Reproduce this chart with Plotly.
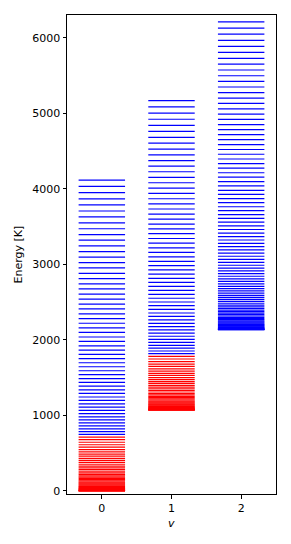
import plotly.graph_objects as go

# Vibrational states
v_states = [0, 1, 2]

# Level energies [K] per vibrational state (J = 0..97)
energy_v0 = [0, 1, 3, 5, 9, 13, 18, 24, 31, 39, 48, 58, 68, 79, 91, 105, 118, 133, 149, 166,
             183, 201, 220, 240, 261, 283, 306, 329, 354, 379, 405, 432, 460, 488, 518, 548, 580, 612, 645, 679,
             714, 749, 786, 823, 861, 901, 941, 981, 1023, 1066, 1109, 1153, 1198, 1244, 1291, 1339, 1388, 1437, 1487, 1539,
             1591, 1644, 1697, 1752, 1807, 1864, 1921, 1979, 2038, 2098, 2158, 2220, 2282,
             2345, 2409, 2474, 2540, 2606, 2674, 2742, 2811, 2881, 2952,
             3023, 3096, 3169, 3243, 3319, 3394, 3471, 3549, 3627, 3706,
             3787, 3867, 3949, 4032, 4115]
energy_v1 = [1071, 1072, 1074, 1076, 1080, 1084, 1089, 1095, 1102, 1110, 1119, 1128, 1139, 1150, 1162, 1175, 1189, 1204, 1219, 1236,
             1253, 1271, 1290, 1310, 1331, 1353, 1375, 1399, 1423, 1448, 1474, 1501, 1529, 1557, 1587, 1617, 1648, 1680, 1713, 1747,
             1781, 1817, 1853, 1890, 1928, 1967, 2007, 2048, 2089, 2132, 2175, 2219, 2264, 2310, 2356, 2404, 2452, 2501, 2551, 2602,
             2654, 2707, 2760, 2815, 2870, 2926, 2983, 3040, 3099, 3158, 3219, 3280, 3342, 3405, 3468, 3533, 3598, 3665, 3732, 3800,
             3868, 3938, 4009, 4080, 4152, 4225, 4299, 4373, 4449, 4525, 4603, 4681, 4759, 4839, 4920, 5001, 5083, 5166]
energy_v2 = [2135, 2136, 2137, 2140, 2144, 2148, 2153, 2159, 2166, 2174, 2182, 2192, 2202, 2213, 2225, 2238, 2252, 2267, 2282, 2299,
             2316, 2334, 2353, 2373, 2394, 2415, 2438, 2461, 2485, 2510, 2536, 2563, 2590, 2619, 2648, 2678, 2709, 2741, 2774, 2807,
             2842, 2877, 2913, 2950, 2988, 3027, 3066, 3107, 3148, 3190, 3233, 3277, 3322, 3367, 3414, 3461, 3509, 3558, 3608, 3659,
             3710, 3762, 3816, 3870, 3925, 3980, 4037, 4094, 4153, 4212, 4272, 4333, 4394, 4457, 4520, 4585, 4650, 4716, 4782, 4850,
             4918, 4988, 5058, 5129, 5201, 5273, 5347, 5421, 5496, 5572, 5649, 5727, 5805, 5884, 5965, 6046, 6127, 6210]

# Number of lowest levels drawn in red for each vibrational state
n_red = [41, 41, 0]

y_ticks = [0, 1000, 2000, 3000, 4000, 5000, 6000]
x_tick_labels = ["0", "1", "2"]

energies = [energy_v0, energy_v1, energy_v2]
half_width = 1 / 3

fig = go.Figure()
for v, levels, nr in zip(v_states, energies, n_red):
    for color, subset in (("red", levels[:nr]), ("blue", levels[nr:])):
        if not subset:
            continue
        xs, ys = [], []
        for e in subset:
            xs += [v - half_width, v + half_width, None]
            ys += [e, e, None]
        fig.add_trace(go.Scatter(x=xs, y=ys, mode="lines",
                                 line=dict(color=color, width=1.2),
                                 hoverinfo="skip", showlegend=False))

axis_common = dict(showline=True, linecolor="black", linewidth=1, mirror=True,
                   ticks="outside", ticklen=3.5, tickwidth=1, tickcolor="black",
                   showgrid=False, zeroline=False, automargin=False,
                   tickfont=dict(family="DejaVu Sans", size=11, color="black"))

# The page body adds an 8 px offset, so the figure is sized to fit inside it.
fig.update_layout(
    width=283, height=536,
    margin=dict(l=59, r=15, t=7, b=50),
    paper_bgcolor="white", plot_bgcolor="white",
    font=dict(family="DejaVu Sans", size=11, color="black"),
    xaxis=dict(range=[-0.5, 2.5], tickvals=v_states, ticktext=x_tick_labels, **axis_common),
    yaxis=dict(range=[-40, 6300], tickvals=y_ticks, **axis_common),
    annotations=[
        dict(text="Energy [K]", xref="paper", yref="paper", x=0, y=0.5,
             xanchor="center", yanchor="middle", xshift=-49, textangle=-90,
             showarrow=False, font=dict(family="DejaVu Sans", size=11, color="black")),
        dict(text="<i>v</i>", xref="paper", yref="paper", x=0.5, y=0,
             xanchor="center", yanchor="middle", yshift=-29,
             showarrow=False, font=dict(family="DejaVu Sans", size=11, color="black")),
    ],
)

fig.write_html("out.html")
